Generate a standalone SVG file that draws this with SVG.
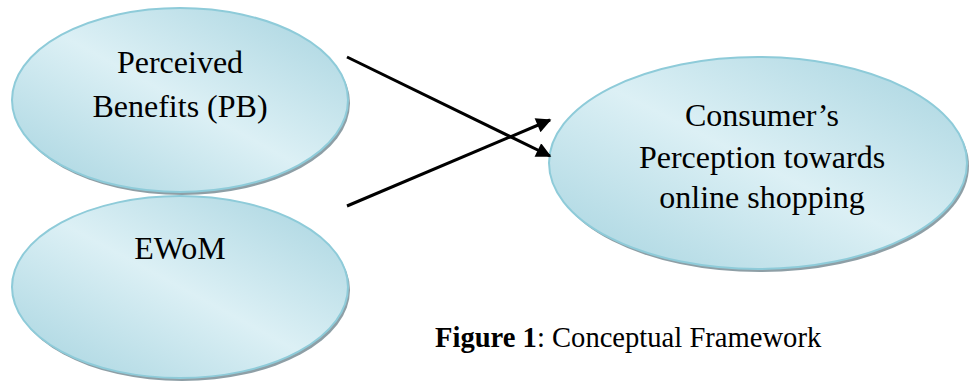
<svg xmlns="http://www.w3.org/2000/svg" width="969" height="381" viewBox="0 0 969 381">
  <defs>
    <linearGradient id="fill" x1="0" y1="1" x2="1" y2="0">
      <stop offset="0" stop-color="#a5d3df"/>
      <stop offset="0.5" stop-color="#dcf0f5"/>
      <stop offset="1" stop-color="#a6d3df"/>
    </linearGradient>
    <marker id="arrow" viewBox="0 0 10 10" refX="9" refY="5" markerWidth="6" markerHeight="5" markerUnits="strokeWidth" orient="auto">
      <path d="M0,0 L10,5 L0,10 Z" fill="#000"/>
    </marker>
  </defs>
  <style>
    .shadow { fill: #8e9fa6; }
    .node { fill: url(#fill); stroke: #8ecbd9; stroke-width: 2; }
    .label { font-family: "Liberation Serif", "Times New Roman", serif; font-size: 32px; fill: #000; text-anchor: middle; }
    .conn { stroke: #000; stroke-width: 3; fill: none; marker-end: url(#arrow); }
    .caption { font-family: "Liberation Serif", "Times New Roman", serif; font-size: 28.6px; fill: #000; }
  </style>
  <rect width="969" height="381" fill="#fff"/>

  <g id="node-pb">
    <ellipse class="shadow" cx="182" cy="103" rx="168" ry="92"/>
    <ellipse class="node" cx="180" cy="100" rx="168" ry="92"/>
    <text class="label" x="180" y="73">Perceived</text>
    <text class="label" x="180" y="117">Benefits (PB)</text>
  </g>

  <g id="node-ewom">
    <ellipse class="shadow" cx="182" cy="290" rx="168" ry="91"/>
    <ellipse class="node" cx="180" cy="287" rx="168" ry="91"/>
    <text class="label" x="180" y="259">EWoM</text>
  </g>

  <g id="node-consumer">
    <ellipse class="shadow" cx="760" cy="166" rx="209" ry="106"/>
    <ellipse class="node" cx="758" cy="163" rx="209" ry="106"/>
    <text class="label" x="762" y="126">Consumer’s</text>
    <text class="label" x="762" y="168">Perception towards</text>
    <text class="label" x="762" y="208">online shopping</text>
  </g>

  <g id="connectors">
    <line class="conn" x1="347" y1="57" x2="550" y2="156"/>
    <line class="conn" x1="347" y1="206" x2="550" y2="120"/>
  </g>

  <text class="caption" x="435" y="347"><tspan font-weight="bold">Figure 1</tspan>: Conceptual Framework</text>
</svg>
